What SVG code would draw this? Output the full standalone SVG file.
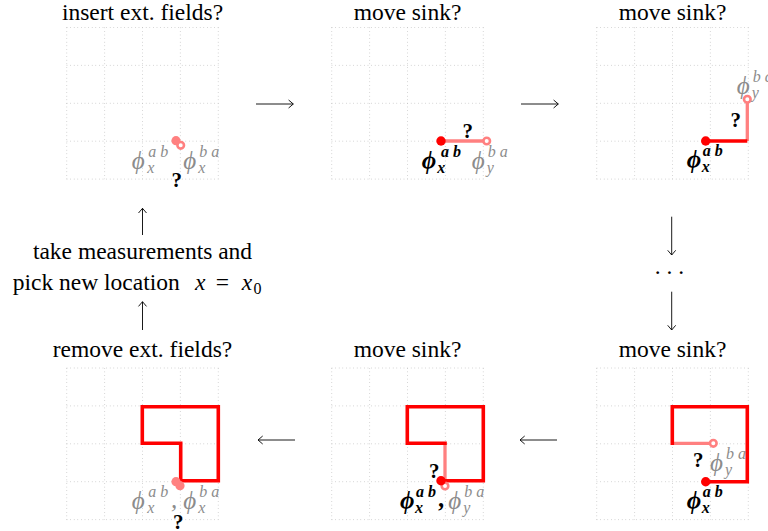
<svg xmlns="http://www.w3.org/2000/svg" width="768" height="531" viewBox="0 0 768 531">
<style>
.ttl{font-family:"Liberation Serif","DejaVu Serif",serif;font-size:23.5px;text-anchor:middle;fill:#000}
.gl{stroke:#b4b4b4;stroke-width:0.9;stroke-dasharray:0.6 3;fill:none}
.rp{fill:none;stroke:#ff0000;stroke-width:3.6;stroke-linejoin:miter;stroke-linecap:square}
.pl{fill:none;stroke:#ff8080;stroke-width:3.3}
.dot{fill:#ff0000}
.pdot{fill:#ff8080}
.ring{fill:#ffffff;stroke:#ff8080;stroke-width:2.6}
.q{font-family:"Liberation Serif","DejaVu Serif",serif;font-weight:bold;font-size:21px;text-anchor:middle;fill:#000}
.ph{font-family:"Liberation Serif","DejaVu Serif",serif;font-style:italic;font-size:25px}
.sc{font-size:16px}
.gray{fill:#8c8c8c}
.blk{fill:#000;font-weight:bold}
.arr{fill:none;stroke:#000;stroke-width:0.9}
</style>
<defs>
<g id="grid">
<line class="gl" x1="0" y1="0" x2="151.6" y2="0"/>
<line class="gl" x1="0" y1="37.9" x2="151.6" y2="37.9"/>
<line class="gl" x1="0" y1="75.8" x2="151.6" y2="75.8"/>
<line class="gl" x1="0" y1="113.7" x2="151.6" y2="113.7"/>
<line class="gl" x1="0" y1="151.6" x2="151.6" y2="151.6"/>
<line class="gl" x1="0" y1="0" x2="0" y2="151.6"/>
<line class="gl" x1="37.9" y1="0" x2="37.9" y2="151.6"/>
<line class="gl" x1="75.8" y1="0" x2="75.8" y2="151.6"/>
<line class="gl" x1="113.7" y1="0" x2="113.7" y2="151.6"/>
<line class="gl" x1="151.6" y1="0" x2="151.6" y2="151.6"/>
</g>
</defs>
<rect width="768" height="531" fill="#fff"/>

<g id="connectors">
<path class="arr" d="M256,104 H293.3 M288.6,100 L293.3,104 L288.6,108"/>
<path class="arr" d="M521,104 H558.3 M553.6,100 L558.3,104 L553.6,108"/>
<path class="arr" d="M258,440 H295 M262.7,436 L258,440 L262.7,444"/>
<path class="arr" d="M520,440 H557 M524.7,436 L520,440 L524.7,444"/>
<path class="arr" d="M142.5,235 V208.3 M138.5,213 L142.5,208.3 L146.5,213"/>
<path class="arr" d="M142.5,330 V301.7 M138.5,306.4 L142.5,301.7 L146.5,306.4"/>
<path class="arr" d="M671.7,216.7 V255 M667.7,250.3 L671.7,255 L675.7,250.3"/>
<path class="arr" d="M671.7,291.7 V330 M667.7,325.3 L671.7,330 L675.7,325.3"/>
</g>

<g id="panel1">
<text class="ttl" x="142.5" y="19.5">insert ext. fields?</text>
<use href="#grid" x="66.7" y="27.5"/>
<circle class="pdot" cx="176" cy="140.7" r="4.6"/>
<circle class="ring" cx="180.7" cy="145.3" r="3.3"/>
<g class="gray"><text class="ph" x="131.7" y="169">ϕ</text><text class="ph sc" x="148.3" y="157">a b</text><text class="ph sc" x="147.3" y="173">x</text></g>
<g class="gray"><text class="ph" x="183.3" y="169">ϕ</text><text class="ph sc" x="199.3" y="157">b a</text><text class="ph sc" x="198.3" y="173">x</text></g>
<text class="q" x="176.7" y="187">?</text>
</g>

<g id="panel2">
<text class="ttl" x="407.5" y="19.5">move sink?</text>
<use href="#grid" x="331.7" y="27.5"/>
<line class="pl" x1="441" y1="141" x2="486.7" y2="141"/>
<circle class="ring" cx="486.7" cy="141" r="3.3"/>
<circle class="dot" cx="441" cy="141" r="4.7"/>
<text class="q" x="467.7" y="138">?</text>
<g class="blk"><text class="ph" x="421.7" y="169">ϕ</text><text class="ph sc" x="441" y="157">a b</text><text class="ph sc" x="437.2" y="173">x</text></g>
<g class="gray"><text class="ph" x="471.7" y="169">ϕ</text><text class="ph sc" x="487.7" y="157">b a</text><text class="ph sc" x="486.7" y="173">y</text></g>
</g>

<g id="panel3">
<text class="ttl" x="672.5" y="19.5">move sink?</text>
<use href="#grid" x="596.7" y="27.5"/>
<line class="pl" x1="747.3" y1="141" x2="747.3" y2="99.3"/>
<path class="rp" style="stroke-linecap:butt" d="M705.7,141 H747.3"/>
<circle class="ring" cx="747.3" cy="99.3" r="3.3"/>
<circle class="dot" cx="705.7" cy="141" r="4.7"/>
<text class="q" x="735.7" y="126.5">?</text>
<g class="gray"><text class="ph" x="736.7" y="93.5">ϕ</text><text class="ph sc" x="752.7" y="81.5">b c</text><text class="ph sc" x="751.7" y="97.5">y</text></g>
<g class="blk"><text class="ph" x="686.7" y="168">ϕ</text><text class="ph sc" x="702.7" y="156">a b</text><text class="ph sc" x="701.7" y="172">x</text></g>
</g>

<g id="panel4">
<text class="ttl" x="142.5" y="357">remove ext. fields?</text>
<use href="#grid" x="66.7" y="368"/>
<path class="rp" d="M180.7,480.7 V443.3 H142.3 V406.7 H218.3 V480.7 Z"/>
<circle class="pdot" cx="176" cy="481.7" r="4.6"/>
<circle class="pdot" cx="180" cy="485.7" r="4.6"/>
<g class="gray"><text class="ph" x="131.7" y="509">ϕ</text><text class="ph sc" x="148.3" y="497">a b</text><text class="ph sc" x="147.3" y="513">x</text></g>
<text class="ph gray" x="171" y="508">,</text>
<g class="gray"><text class="ph" x="183.3" y="509">ϕ</text><text class="ph sc" x="199.3" y="497">b a</text><text class="ph sc" x="198.3" y="513">x</text></g>
<text class="q" x="178.3" y="528.5">?</text>
</g>

<g id="panel5">
<text class="ttl" x="407.5" y="357">move sink?</text>
<use href="#grid" x="331.7" y="368"/>
<line class="pl" x1="445" y1="443.3" x2="445" y2="486"/>
<path class="rp" style="stroke-linecap:butt" d="M446.8,443.3 H407.3 V406.7 H483.3 V480.7 H443"/>
<circle class="ring" cx="445" cy="486" r="3.3"/>
<circle class="dot" cx="441" cy="480.7" r="4.7"/>
<text class="q" x="434.3" y="478">?</text>
<g class="blk"><text class="ph" x="400" y="509">ϕ</text><text class="ph sc" x="416" y="497">a b</text><text class="ph sc" x="415" y="513">x</text></g>
<text class="ph blk" x="439" y="507">,</text>
<g class="gray"><text class="ph" x="448.3" y="509">ϕ</text><text class="ph sc" x="464.3" y="497">b a</text><text class="ph sc" x="463.3" y="513">y</text></g>
</g>

<g id="panel6">
<text class="ttl" x="672.5" y="357">move sink?</text>
<use href="#grid" x="596.7" y="368"/>
<line class="pl" x1="672.3" y1="443.3" x2="713.3" y2="443.3"/>
<path class="rp" style="stroke-linecap:butt" d="M672.3,445 V406.7 H747.3 V481.7 H705.7"/>
<circle class="ring" cx="713.3" cy="443.3" r="3.3"/>
<circle class="dot" cx="705.7" cy="481.7" r="4.7"/>
<text class="q" x="698.3" y="467">?</text>
<g class="gray"><text class="ph" x="710" y="471">ϕ</text><text class="ph sc" x="726" y="459">b a</text><text class="ph sc" x="725" y="475">y</text></g>
<g class="blk"><text class="ph" x="686.7" y="509">ϕ</text><text class="ph sc" x="702.7" y="497">a b</text><text class="ph sc" x="701.7" y="513">x</text></g>
</g>

<g id="step">
<text class="ttl" x="142.5" y="259">take measurements and</text>
<text class="ttl" x="12.7" y="290" style="text-anchor:start">pick new location</text>
<text class="ph" x="195" y="290" style="font-size:23.5px">x</text>
<text class="ttl" x="222.5" y="290">=</text>
<text class="ph" x="241.7" y="290" style="font-size:23.5px">x</text>
<text class="ttl" x="257.5" y="294" style="font-size:16px">0</text>
</g>

<g id="ellipsis">
<text class="ttl" x="669.5" y="274">. . .</text>
</g>
</svg>
